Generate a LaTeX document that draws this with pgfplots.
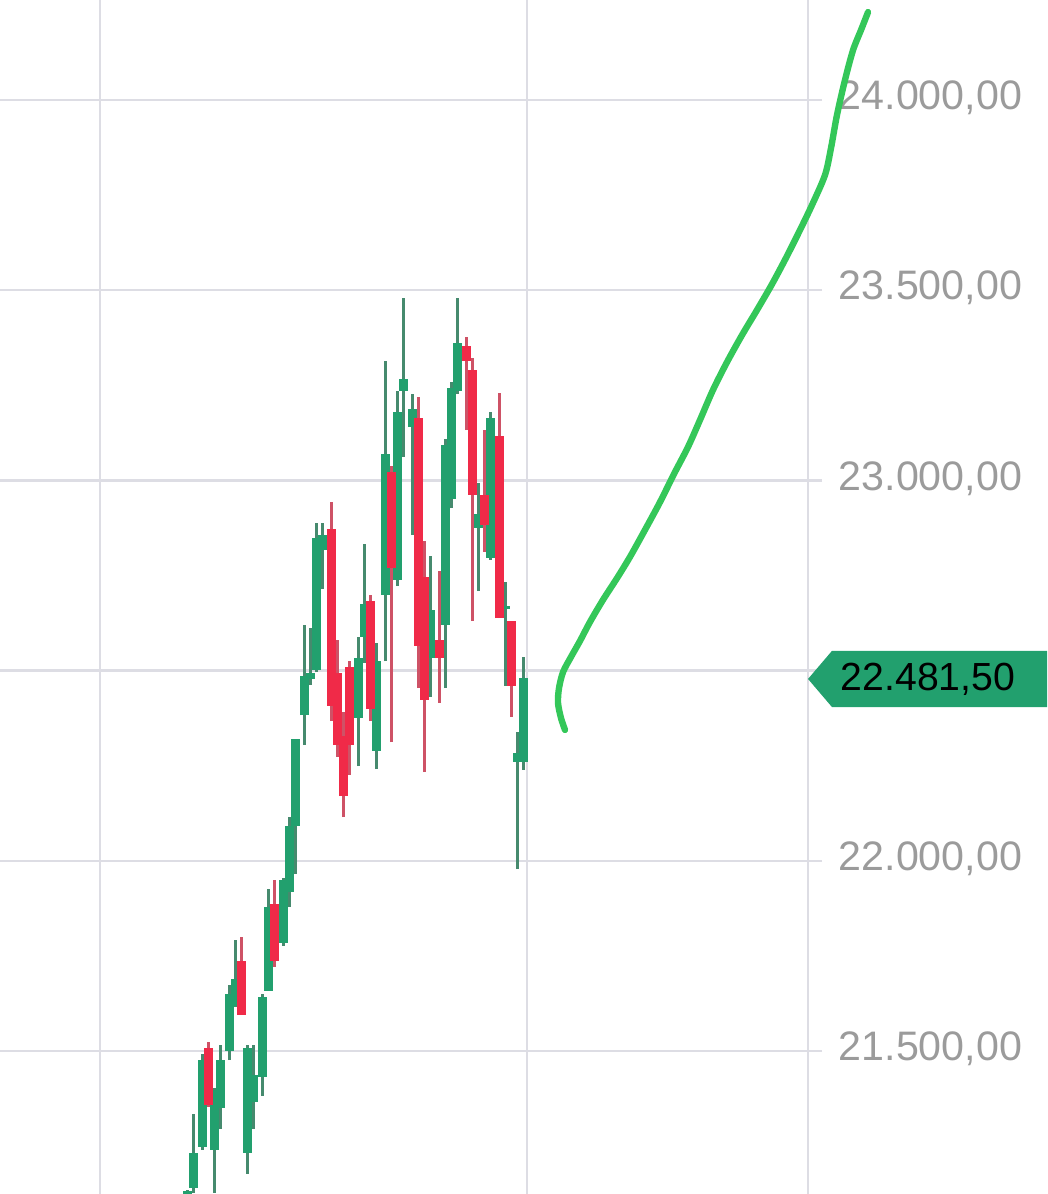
\documentclass[border=0pt]{standalone}
\usepackage{pgfplots}
\pgfplotsset{compat=1.18}
\usepackage{pgfplotstable}
\usepackage{fontspec}
\setmainfont{Liberation Sans}
\definecolor{gridc}{RGB}{221,221,228}
\definecolor{upbody}{RGB}{34,160,110}
\definecolor{upwick}{RGB}{70,138,110}
\definecolor{dnbody}{RGB}{240,42,72}
\definecolor{dnwick}{RGB}{206,82,102}
\definecolor{lbl}{RGB}{155,155,155}
\definecolor{drawn}{RGB}{52,199,89}

\pgfplotstableread{
x o h l c
187.5 21124 21135 21108 21132
193.5 21140 21334 21127 21232
202.5 21248 21492 21240 21476
214.5 21240 21403 21127 21398
220.5 21350 21516 21295 21476
229.5 21500 21674 21476 21650
235.5 21618 21792 21616 21689
247.5 21232 21516 21177 21508
253.5 21366 21516 21295 21437
262.5 21432 21650 21382 21642
268.5 21658 21926 21658 21879
283.5 21784 21955 21776 21950
289.5 21918 22115 21879 22092
295.5 22092 22320 21965 22320
304.5 22383 22620 22304 22486
310.5 22478 22612 22462 22494
316.5 22502 22888 22496 22849
322.5 22817 22888 22714 22856
358.5 22375 22588 22249 22533
364.5 22588 22833 22520 22675
376.5 22289 22573 22241 22525
385.5 22699 23314 22525 23069
397.5 22738 23235 22722 23180
403.5 23235 23480 23062 23267
412.5 23140 23227 22856 23188
430.5 22533 22801 22431 22659
445.5 22620 23109 22454 23093
451.5 22951 23259 22927 23243
457.5 23235 23480 23227 23361
478.5 22875 22993 22709 22912
490.5 22796 23180 22791 23164
505.5 22662 22733 22460 22670
517.5 22260 22339 21978 22283
523.5 22260 22536 22239 22481.5
}\up

\pgfplotstableread{
x o h l c
208.5 21508 21524 21353 21358
241.5 21737 21800 21595 21595
274.5 21886 21950 21721 21737
331.5 22872 22943 22367 22407
337.5 22494 22580 22273 22304
343.5 22328 22391 22115 22170
349.5 22509 22525 22226 22304
370.5 22683 22699 22367 22399
391.5 23022 23038 22312 22770
418.5 23164 23219 22454 22565
424.5 22746 22841 22233 22423
439.5 22580 22762 22415 22533
466.5 23353 23377 23132 23314
472.5 23290 23322 22630 22962
484.5 22962 23132 22812 22883
499.5 23117 23230 22638 22638
511.5 22630 22630 22378 22460
}\down

\begin{document}
\begin{tikzpicture}
\begin{axis}[at={(0,0)}, anchor=south west, scale only axis,
  width=202pt, height=298.5pt,
  xmin=0, xmax=808, ymin=21124, ymax=24263,
  axis line style={draw=none},
  xtick={100,527,808}, xticklabel=\empty, xtick style={draw=none},
  ytick={21500,22000,22500,23000,23500,24000},
  yticklabels={{21.500,00},{22.000,00},{22.500,00},{23.000,00},{23.500,00},{24.000,00}},
  yticklabel pos=right,
  grid=major, major grid style={draw=gridc, line width=0.6pt},
  tick align=outside, major tick length=3.5pt,
  ytick style={draw=gridc, line width=0.6pt},
  yticklabel style={anchor=west, font=\fontsize{10.3}{12}\selectfont, text=lbl, inner sep=0pt, xshift=4pt, yshift=0.5pt},
]
% wicks
\addplot[no markers, draw=none, forget plot, error bars/.cd, y dir=plus, y explicit, error mark=none,
  error bar style={draw=upwick, line width=0.75pt, line cap=butt}]
  table[x=x, y=l, y error plus expr=\thisrow{h}-\thisrow{l}] {\up};
\addplot[no markers, draw=none, forget plot, error bars/.cd, y dir=plus, y explicit, error mark=none,
  error bar style={draw=dnwick, line width=0.75pt, line cap=butt}]
  table[x=x, y=l, y error plus expr=\thisrow{h}-\thisrow{l}] {\down};
% bodies
\addplot[no markers, draw=none, forget plot, error bars/.cd, y dir=plus, y explicit, error mark=none,
  error bar style={draw=upbody, line width=2.25pt, line cap=butt}]
  table[x=x, y=o, y error plus expr=\thisrow{c}-\thisrow{o}] {\up};
\addplot[no markers, draw=none, forget plot, error bars/.cd, y dir=plus, y explicit, error mark=none,
  error bar style={draw=dnbody, line width=2.25pt, line cap=butt}]
  table[x=x, y=c, y error plus expr=\thisrow{o}-\thisrow{c}] {\down};
\end{axis}

\begin{axis}[at={(0,0)}, anchor=south west, scale only axis,
  width=202pt, height=298.5pt,
  xmin=0, xmax=808, ymin=21124, ymax=24263,
  axis lines=none, clip=false]
\fill[upbody] (axis cs:808,22478) -- (axis cs:832,22552) -- (axis cs:1047,22552)
  -- (axis cs:1047,22404) -- (axis cs:832,22404) -- cycle;
\node[anchor=west, inner sep=0pt, font=\fontsize{9.8}{11}\selectfont, text=black] at (axis cs:840,22478) {22.481,50};
\addplot[drawn, line width=1.6pt, smooth, tension=0.5, line cap=round, line join=round] coordinates {
(565,22344) (561,22375) (558,22415) (559,22454) (563,22496) (571,22536) (580,22578)
(590,22628) (603,22686) (617,22743) (630,22799) (645,22870) (660,22943) (674,23017)
(688,23088) (700,23159) (713,23238) (727,23311) (742,23382) (757,23448) (772,23516)
(786,23585) (799,23653) (812,23724) (825,23803) (831,23874) (837,23961) (845,24053)
(853,24131) (861,24184) (868,24231)};
\end{axis}
\pgfresetboundingbox
\useasboundingbox (0,0) rectangle (261.75pt,298.5pt);
\end{tikzpicture}
\end{document}
